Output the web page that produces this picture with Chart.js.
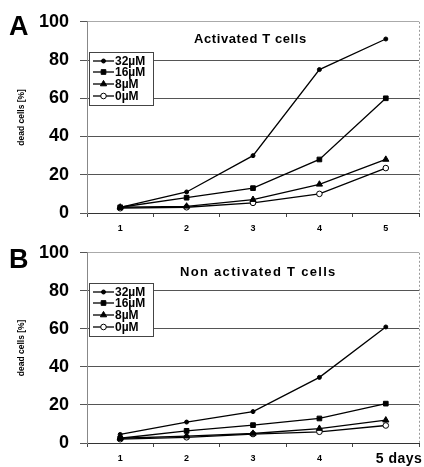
<!DOCTYPE html>
<html>
<head>
<meta charset="utf-8">
<script src="https://cdn.jsdelivr.net/npm/chart.js@4/dist/chart.umd.min.js"></script>
<style>
html, body { margin: 0; padding: 0; background: #fff; }
#wrap { position: relative; width: 424px; height: 467px; overflow: hidden; }
.panel { position: absolute; left: 0; width: 424px; height: 236px; }
#panelA { top: 0; }
#panelB { top: 231px; }
</style>
</head>
<body>
<div id="wrap">
  <div class="panel" id="panelA"><canvas id="chartA" width="424" height="236"></canvas></div>
  <div class="panel" id="panelB"><canvas id="chartB" width="424" height="236"></canvas></div>
</div>
<script>
// Data (dead cells in %)
const days = ['1', '2', '3', '4', '5'];
const doses = ['32µM', '16µM', '8µM', '0µM'];
const yTicks = [0, 20, 40, 60, 80, 100];

const activated32 = [3, 11, 30, 75, 91];
const activated16 = [3, 8, 13, 28, 60];
const activated8 = [3, 3.5, 7, 15, 28];
const activated0 = [2.5, 3, 5.3, 10, 23.5];

const resting32 = [4.5, 11, 16.5, 34.5, 61];
const resting16 = [2.5, 6.4, 9.4, 12.9, 20.7];
const resting8 = [2.5, 3.6, 5, 7.6, 12];
const resting0 = [2, 3, 4.7, 5.9, 9.2];

const FONT = 'Arial, "Liberation Sans", Helvetica, sans-serif';

// marker look per dose
const markerStyles = [
    { pointStyle: 'circle', radius: 2, fill: '#000' },
    { pointStyle: 'rect', radius: 3.3, fill: '#000' },
    { pointStyle: 'triangle', radius: 3.6, fill: '#000' },
    { pointStyle: 'circle', radius: 2.8, fill: '#fff' }
];

function makeDatasets(series) {
    return series.map((values, i) => ({
        label: doses[i],
        data: values,
        borderColor: '#000',
        borderWidth: 1.3,
        pointStyle: markerStyles[i].pointStyle,
        pointRadius: markerStyles[i].radius,
        pointBackgroundColor: markerStyles[i].fill,
        pointBorderColor: '#000',
        pointBorderWidth: 1,
        tension: 0,
        fill: false
    }));
}

/**
 * Panel decorations: big letter, inner title, legend box, right border
 */
const panelDecor = {
    id: 'panelDecor',
    afterDraw(chart, args, opts) {
        const ctx = chart.ctx;
        const area = chart.chartArea;
        ctx.save();

        // dashed right border of the plot
        ctx.strokeStyle = '#999';
        ctx.lineWidth = 1;
        ctx.setLineDash([2, 2]);
        ctx.beginPath();
        ctx.moveTo(area.right + 0.5, area.top);
        ctx.lineTo(area.right + 0.5, area.bottom);
        ctx.stroke();
        ctx.setLineDash([]);

        // panel letter
        ctx.fillStyle = '#000';
        ctx.font = 'bold 27px ' + FONT;
        ctx.textAlign = 'left';
        ctx.textBaseline = 'alphabetic';
        ctx.fillText(opts.letter, 9, opts.letterY);

        // inner title
        ctx.font = 'bold 13px ' + FONT;
        ctx.letterSpacing = opts.titleSpacing;
        ctx.textBaseline = 'middle';
        ctx.fillText(opts.title, opts.titleX, opts.titleY);
        ctx.letterSpacing = '0px';

        // legend box
        const lx = area.left + 2, ly = 52, lw = 64, lh = 53;
        ctx.fillStyle = '#fff';
        ctx.fillRect(lx, ly, lw, lh);
        ctx.strokeStyle = '#444';
        ctx.strokeRect(lx + 0.5, ly + 0.5, lw, lh);

        const rowY = [61, 72, 84, 96];
        chart.data.datasets.forEach((ds, i) => {
            const y = rowY[i];
            ctx.strokeStyle = '#000';
            ctx.lineWidth = 1.3;
            ctx.beginPath();
            ctx.moveTo(lx + 4, y);
            ctx.lineTo(lx + 25, y);
            ctx.stroke();
            ctx.fillStyle = ds.pointBackgroundColor;
            ctx.lineWidth = 1;
            Chart.helpers.drawPoint(ctx, {
                pointStyle: ds.pointStyle,
                radius: ds.pointRadius,
                rotation: 0,
                borderWidth: 1
            }, lx + 14.5, y);
            ctx.fillStyle = '#000';
            ctx.font = 'bold 12px ' + FONT;
            ctx.textAlign = 'left';
            ctx.textBaseline = 'middle';
            ctx.fillText(ds.label, lx + 26, y + 0.5);
        });

        // "5 days" label of the lower panel
        if (opts.lastLabel) {
            const xs = chart.scales.x;
            ctx.font = 'bold 14px ' + FONT;
            ctx.letterSpacing = '0.5px';
            ctx.textAlign = 'left';
            ctx.textBaseline = 'middle';
            ctx.fillText(opts.lastLabel, xs.getPixelForTick(4) - 10, area.bottom + 16);
            ctx.letterSpacing = '0px';
        }
        ctx.restore();
    }
};

function buildChart(canvasId, series, decor, xHeight) {
    return new Chart(document.getElementById(canvasId), {
        type: 'line',
        data: { labels: days, datasets: makeDatasets(series) },
        options: {
            responsive: false,
            animation: false,
            devicePixelRatio: 1,
            layout: { padding: { top: 20, left: 10, right: 2, bottom: 0 } },
            plugins: {
                legend: { display: false },
                tooltip: { enabled: false },
                panelDecor: decor
            },
            scales: {
                x: {
                    type: 'category',
                    offset: true,
                    afterFit: s => { s.height = xHeight; },
                    grid: {
                        offset: true,
                        drawOnChartArea: false,
                        drawTicks: true,
                        tickLength: 4,
                        color: '#444'
                    },
                    border: { display: true, color: '#333', width: 1 },
                    ticks: {
                        color: '#000',
                        padding: 6,
                        maxRotation: 0,
                        font: { family: FONT, size: 9, weight: 'bold' },
                        callback: (v, i) => (decor.lastLabel && i === 4) ? '' : days[i]
                    }
                },
                y: {
                    min: 0,
                    max: 100,
                    afterFit: s => { s.width = 77; },
                    afterBuildTicks: s => { s.ticks = yTicks.map(v => ({ value: v })); },
                    grid: {
                        color: ctx => ctx.tick && ctx.tick.value === 100 ? '#aaa' : '#555',
                        lineWidth: 1,
                        drawTicks: true,
                        tickLength: 7,
                        tickColor: '#555'
                    },
                    border: { display: true, color: '#888', width: 1 },
                    ticks: {
                        color: '#000',
                        padding: 11,
                        font: { family: FONT, size: 18, weight: 'bold' }
                    },
                    title: {
                        display: true,
                        text: 'dead cells [%]',
                        color: '#000',
                        padding: { top: 7, bottom: 0 },
                        font: { family: FONT, size: 8.5, weight: 'bold' }
                    }
                }
            }
        },
        plugins: [panelDecor]
    });
}

buildChart('chartA', [activated32, activated16, activated8, activated0], {
    letter: 'A', letterY: 35, title: 'Activated T cells', titleX: 194, titleY: 39,
    titleSpacing: '0.6px'
}, 23);

buildChart('chartB', [resting32, resting16, resting8, resting0], {
    letter: 'B', letterY: 37, title: 'Non activated T cells', titleX: 180, titleY: 41,
    titleSpacing: '1.3px', lastLabel: '5 days'
}, 24);
</script>
</body>
</html>
